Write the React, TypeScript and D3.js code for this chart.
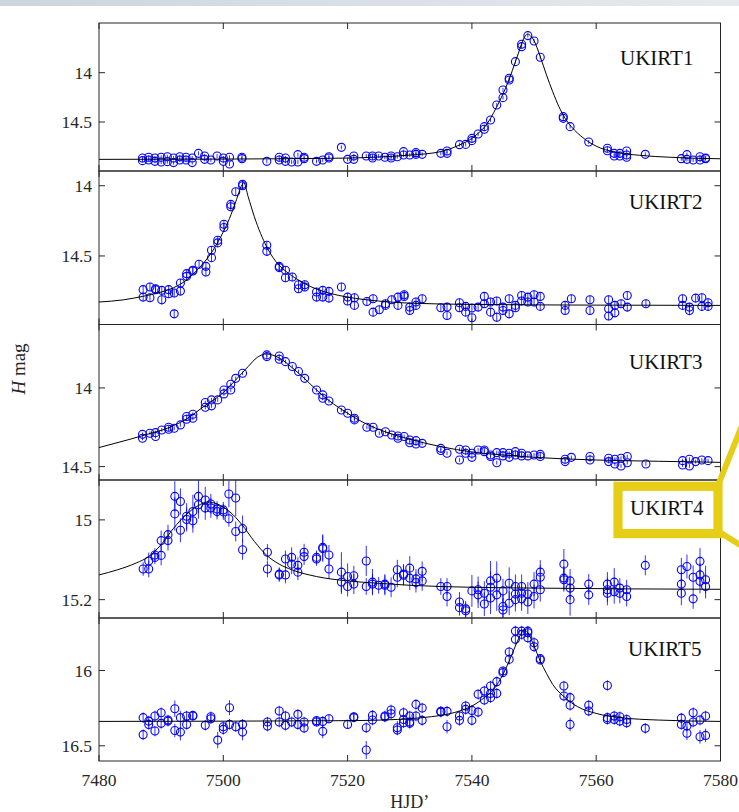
import React from "react";
import * as d3 from "d3";

// Each observation: [HJD', H magnitude, 1-sigma error]
type Obs = [number, number, number];
type Pt = [number, number];

const hjdDomain: [number, number] = [7480, 7580];
const hjdTicks = [7480, 7500, 7520, 7540, 7560, 7580];

const fieldNames = ["UKIRT1", "UKIRT2", "UKIRT3", "UKIRT4", "UKIRT5"];

const ukirt1Obs: Obs[] = [
  [7487, 14.865, 0.02], [7487, 14.892, 0.02], [7488, 14.858, 0.02], [7488, 14.885, 0.02],
  [7489, 14.865, 0.02], [7489, 14.899, 0.02], [7490, 14.858, 0.02], [7490, 14.906, 0.02],
  [7491, 14.852, 0.02], [7491, 14.902, 0.02], [7492, 14.865, 0.02], [7492, 14.912, 0.02],
  [7493, 14.852, 0.02], [7493, 14.885, 0.02], [7494, 14.858, 0.02], [7494, 14.885, 0.02],
  [7495, 14.865, 0.02], [7495, 14.912, 0.02], [7496, 14.818, 0.02],
  [7497, 14.845, 0.02], [7497, 14.879, 0.02], [7498, 14.885, 0.02], [7499, 14.845, 0.02],
  [7500, 14.865, 0.02], [7500, 14.899, 0.02], [7501, 14.858, 0.02], [7501, 14.926, 0.02],
  [7503, 14.858, 0.02], [7503, 14.872, 0.02], [7507, 14.899, 0.02],
  [7509, 14.858, 0.02], [7509, 14.885, 0.02], [7510, 14.865, 0.02], [7510, 14.899, 0.02],
  [7511, 14.906, 0.02], [7512, 14.831, 0.02], [7512, 14.906, 0.02],
  [7513, 14.858, 0.02], [7513, 14.872, 0.02], [7515, 14.899, 0.02], [7516, 14.885, 0.02],
  [7517, 14.852, 0.02], [7517, 14.865, 0.02], [7519, 14.757, 0.02], [7520, 14.879, 0.02],
  [7521, 14.845, 0.02], [7521, 14.879, 0.02], [7523, 14.845, 0.02],
  [7524, 14.845, 0.02], [7524, 14.865, 0.02], [7525, 14.845, 0.02], [7526, 14.858, 0.02],
  [7527, 14.845, 0.02], [7527, 14.865, 0.02], [7528, 14.852, 0.02],
  [7529, 14.801, 0.02], [7529, 14.835, 0.02], [7530, 14.835, 0.02],
  [7531, 14.811, 0.02], [7531, 14.828, 0.02], [7532, 14.828, 0.02], [7535, 14.818, 0.02],
  [7536, 14.794, 0.02], [7536, 14.818, 0.02], [7538, 14.73, 0.02], [7539, 14.727, 0.02],
  [7540, 14.666, 0.02], [7540, 14.689, 0.02], [7541, 14.622, 0.02],
  [7542, 14.547, 0.02], [7542, 14.574, 0.02], [7543, 14.48, 0.02], [7544, 14.328, 0.02],
  [7545, 14.253, 0.02], [7545, 14.175, 0.02], [7546, 14.074, 0.02], [7546, 14.057, 0.02],
  [7547, 13.888, 0.02], [7548, 13.736, 0.02], [7548, 13.712, 0.02], [7549, 13.624, 0.02],
  [7550, 13.678, 0.02], [7551, 13.844, 0.02],
  [7554.7, 14.446, 0.02], [7554.7, 14.463, 0.02], [7555.8, 14.547, 0.02], [7558.8, 14.703, 0.02],
  [7561.8, 14.767, 0.02], [7561.8, 14.791, 0.02], [7562.9, 14.818, 0.02], [7562.9, 14.845, 0.02],
  [7563.8, 14.818, 0.02], [7563.8, 14.845, 0.02],
  [7564.9, 14.794, 0.02], [7564.9, 14.835, 0.02], [7564.9, 14.858, 0.02], [7567.9, 14.828, 0.02],
  [7573.7, 14.872, 0.02], [7574.6, 14.831, 0.02], [7574.6, 14.879, 0.02], [7575.6, 14.885, 0.02],
  [7576.7, 14.852, 0.02], [7576.7, 14.885, 0.02], [7577.6, 14.865, 0.02], [7577.6, 14.872, 0.02],
];

const ukirt2Obs: Obs[] = [
  [7487.1, 14.74, 0.03], [7487.1, 14.793, 0.03], [7488.2, 14.721, 0.03], [7488.2, 14.797, 0.03],
  [7489.1, 14.733, 0.03], [7489.1, 14.74, 0.03], [7490.1, 14.745, 0.03], [7490.1, 14.812, 0.035],
  [7491.2, 14.74, 0.03], [7491.2, 14.769, 0.03], [7492.1, 14.912, 0.03], [7492.1, 14.764, 0.03],
  [7493.1, 14.693, 0.03], [7493.1, 14.75, 0.03], [7494.1, 14.626, 0.03], [7494.1, 14.645, 0.03],
  [7495.1, 14.607, 0.03], [7495.1, 14.602, 0.03], [7496.1, 14.559, 0.03],
  [7497.2, 14.574, 0.03], [7497.2, 14.614, 0.03], [7498.1, 14.459, 0.03], [7498.1, 14.512, 0.03],
  [7499.1, 14.388, 0.03], [7499.1, 14.407, 0.03], [7500.1, 14.274, 0.03], [7500.1, 14.297, 0.03],
  [7501.2, 14.133, 0.03], [7501.2, 14.15, 0.03], [7502, 14.043, 0.03],
  [7503.1, 13.99, 0.03], [7503.1, 14.0, 0.03],
  [7507, 14.424, 0.03], [7507, 14.467, 0.03], [7509, 14.574, 0.03], [7509, 14.583, 0.03],
  [7510, 14.602, 0.03], [7510, 14.655, 0.03], [7511.1, 14.65, 0.03],
  [7512.1, 14.705, 0.03], [7512.1, 14.733, 0.03], [7513.1, 14.705, 0.03], [7513.1, 14.721, 0.03],
  [7515, 14.757, 0.03], [7515, 14.793, 0.03], [7516, 14.745, 0.03], [7516, 14.793, 0.03],
  [7517, 14.752, 0.03], [7517, 14.8, 0.03], [7519, 14.721, 0.03],
  [7520, 14.793, 0.03], [7520, 14.821, 0.03], [7521.1, 14.797, 0.03], [7521.1, 14.852, 0.03],
  [7523.1, 14.824, 0.03], [7524.1, 14.805, 0.03], [7524.1, 14.9, 0.03], [7525.1, 14.883, 0.03],
  [7526.1, 14.84, 0.03], [7526.1, 14.852, 0.03], [7527.1, 14.812, 0.03],
  [7528.1, 14.793, 0.03], [7528.1, 14.852, 0.03], [7529.1, 14.776, 0.03], [7529.1, 14.788, 0.03],
  [7530, 14.864, 0.03], [7530, 14.888, 0.03], [7531, 14.828, 0.03], [7531, 14.852, 0.03],
  [7532, 14.805, 0.03], [7535, 14.869, 0.03], [7536, 14.864, 0.03], [7536, 14.924, 0.03],
  [7538, 14.833, 0.03], [7538, 14.869, 0.03], [7539, 14.859, 0.03], [7539, 14.9, 0.03],
  [7540, 14.871, 0.03], [7540, 14.94, 0.03], [7541, 14.864, 0.03],
  [7542, 14.788, 0.03], [7542, 14.84, 0.03], [7543, 14.828, 0.03], [7543, 14.9, 0.03],
  [7544, 14.821, 0.03], [7544, 14.936, 0.035], [7545, 14.864, 0.03], [7545, 14.888, 0.03],
  [7546, 14.805, 0.03], [7546, 14.912, 0.03], [7547, 14.852, 0.03], [7547, 14.869, 0.03],
  [7548, 14.781, 0.03], [7548, 14.821, 0.03], [7549, 14.793, 0.03], [7549, 14.828, 0.03],
  [7550, 14.776, 0.03], [7550, 14.828, 0.03], [7551, 14.788, 0.03], [7551, 14.859, 0.03],
  [7555, 14.852, 0.03], [7555, 14.888, 0.03], [7556, 14.805, 0.03],
  [7559, 14.812, 0.03], [7559, 14.888, 0.03],
  [7562, 14.812, 0.03], [7562, 14.876, 0.03], [7562, 14.928, 0.03],
  [7563, 14.852, 0.03], [7563, 14.905, 0.03], [7564, 14.84, 0.03],
  [7565, 14.781, 0.03], [7565, 14.864, 0.03], [7568, 14.84, 0.03],
  [7573.9, 14.805, 0.03], [7573.9, 14.852, 0.03], [7575, 14.864, 0.03], [7575, 14.888, 0.035],
  [7576, 14.8, 0.03], [7577, 14.797, 0.03], [7577, 14.859, 0.03],
  [7578, 14.833, 0.03], [7578, 14.859, 0.03],
];

const ukirt3Obs: Obs[] = [
  [7487, 14.295, 0.012], [7487, 14.32, 0.012], [7488.2, 14.288, 0.012],
  [7489.1, 14.284, 0.012], [7489.1, 14.309, 0.012], [7490.1, 14.267, 0.012],
  [7491.2, 14.25, 0.012], [7491.2, 14.263, 0.012], [7492.1, 14.256, 0.012], [7493.1, 14.235, 0.012],
  [7494.1, 14.182, 0.012], [7494.1, 14.199, 0.012], [7495.1, 14.167, 0.012], [7495.1, 14.193, 0.012],
  [7497.1, 14.093, 0.012], [7497.1, 14.123, 0.012], [7498.1, 14.076, 0.012], [7498.1, 14.114, 0.012],
  [7499.1, 14.076, 0.012], [7500.1, 14.013, 0.012], [7500.1, 14.038, 0.012],
  [7501.2, 13.977, 0.012], [7501.2, 14.013, 0.012], [7502, 13.939, 0.012], [7503.1, 13.907, 0.012],
  [7507, 13.79, 0.012], [7507, 13.801, 0.012], [7509, 13.797, 0.012], [7509, 13.818, 0.012],
  [7510, 13.833, 0.012], [7511.1, 13.864, 0.012], [7512.1, 13.896, 0.012], [7513.1, 13.939, 0.012],
  [7515, 14.013, 0.012], [7516, 14.044, 0.012], [7516, 14.066, 0.012], [7517, 14.083, 0.012],
  [7519, 14.14, 0.012], [7520, 14.161, 0.012], [7521.1, 14.193, 0.012], [7521.1, 14.203, 0.012],
  [7523.1, 14.25, 0.012], [7524.1, 14.25, 0.012], [7525.1, 14.288, 0.012], [7526.1, 14.278, 0.012],
  [7527.1, 14.299, 0.012], [7528.1, 14.305, 0.012], [7528.1, 14.32, 0.012], [7529.1, 14.309, 0.012],
  [7530, 14.331, 0.012], [7530, 14.348, 0.012], [7531, 14.335, 0.012], [7531, 14.356, 0.012],
  [7532, 14.352, 0.012], [7535, 14.384, 0.012], [7535, 14.398, 0.012], [7536, 14.415, 0.012],
  [7538, 14.39, 0.012], [7538, 14.458, 0.012], [7539, 14.394, 0.012], [7539, 14.415, 0.012],
  [7540, 14.415, 0.012], [7540, 14.441, 0.012], [7541, 14.394, 0.012],
  [7542, 14.394, 0.012], [7542, 14.405, 0.012], [7543, 14.426, 0.012], [7543, 14.436, 0.012],
  [7544, 14.411, 0.012], [7544, 14.475, 0.012], [7545, 14.411, 0.012], [7545, 14.432, 0.012],
  [7546, 14.415, 0.012], [7546, 14.441, 0.012], [7547, 14.405, 0.012], [7547, 14.426, 0.012],
  [7548, 14.415, 0.012], [7548, 14.432, 0.012], [7549, 14.432, 0.012], [7550, 14.426, 0.012],
  [7551, 14.422, 0.012], [7551, 14.436, 0.012], [7555, 14.453, 0.012], [7555, 14.468, 0.012],
  [7556, 14.441, 0.012], [7559, 14.436, 0.012], [7559, 14.458, 0.012],
  [7562, 14.447, 0.012], [7562, 14.468, 0.012], [7563, 14.453, 0.012], [7563, 14.483, 0.012],
  [7564, 14.496, 0.012], [7564, 14.447, 0.012], [7565, 14.436, 0.012], [7565, 14.475, 0.012],
  [7568, 14.483, 0.012], [7573.9, 14.462, 0.012], [7573.9, 14.49, 0.012],
  [7575, 14.453, 0.012], [7575, 14.496, 0.012], [7576, 14.468, 0.012], [7577, 14.458, 0.012],
  [7578, 14.462, 0.012],
];

const ukirt4Obs: Obs[] = [
  [7487.1, 15.123, 0.017], [7488, 15.123, 0.021], [7488, 15.103, 0.021],
  [7489, 15.088, 0.017], [7489, 15.094, 0.017], [7490, 15.089, 0.025], [7490, 15.052, 0.025],
  [7491.1, 15.052, 0.025], [7491.1, 15.037, 0.025], [7492.2, 14.941, 0.038], [7492.2, 14.985, 0.042],
  [7493.1, 14.954, 0.033], [7493.1, 15.026, 0.03], [7494.1, 14.991, 0.033], [7494.1, 14.999, 0.03],
  [7495.1, 14.979, 0.042], [7495.1, 15.002, 0.03], [7496, 14.941, 0.042], [7496, 14.962, 0.035],
  [7497.1, 14.95, 0.033], [7497.1, 14.97, 0.03], [7498, 14.96, 0.025], [7498, 14.97, 0.025],
  [7499, 14.973, 0.02], [7499, 14.979, 0.02], [7500, 14.975, 0.02], [7500, 14.98, 0.02],
  [7500.9, 14.935, 0.033], [7500.9, 14.997, 0.02], [7502, 14.945, 0.046], [7502, 15.029, 0.025],
  [7503.1, 15.022, 0.033], [7503.1, 15.075, 0.025],
  [7507.1, 15.081, 0.02], [7507.1, 15.123, 0.021], [7509, 15.136, 0.017], [7509, 15.138, 0.017],
  [7510, 15.098, 0.021], [7510, 15.138, 0.021], [7511, 15.094, 0.025], [7511, 15.111, 0.025],
  [7512, 15.114, 0.02], [7512, 15.131, 0.02], [7513, 15.081, 0.021], [7513, 15.092, 0.021],
  [7515, 15.094, 0.017], [7515, 15.098, 0.017], [7516, 15.069, 0.033], [7516, 15.072, 0.033],
  [7517, 15.088, 0.025], [7517, 15.123, 0.025], [7519, 15.131, 0.05], [7519, 15.156, 0.03],
  [7520, 15.142, 0.033], [7520, 15.167, 0.025], [7521, 15.14, 0.025], [7521, 15.161, 0.025],
  [7523, 15.103, 0.038], [7523, 15.167, 0.021], [7524, 15.156, 0.033], [7524, 15.161, 0.025],
  [7525, 15.164, 0.021], [7526, 15.161, 0.025], [7526, 15.164, 0.025], [7527, 15.169, 0.025],
  [7528, 15.125, 0.025], [7528, 15.144, 0.025], [7529, 15.136, 0.025], [7529, 15.139, 0.025],
  [7530, 15.121, 0.03], [7530, 15.146, 0.03], [7531, 15.148, 0.025], [7531, 15.157, 0.025],
  [7532, 15.129, 0.025], [7532, 15.153, 0.025], [7535, 15.167, 0.021],
  [7536, 15.167, 0.021], [7536, 15.192, 0.025], [7538, 15.206, 0.025], [7538, 15.22, 0.02],
  [7539, 15.228, 0.02], [7539, 15.223, 0.02], [7540, 15.178, 0.04],
  [7541, 15.175, 0.033], [7541, 15.188, 0.033], [7542, 15.184, 0.03], [7542, 15.211, 0.03],
  [7543, 15.153, 0.05], [7543, 15.169, 0.04], [7543, 15.196, 0.04],
  [7544, 15.146, 0.042], [7544, 15.188, 0.04],
  [7545, 15.178, 0.03], [7545, 15.217, 0.03], [7545, 15.226, 0.03],
  [7546, 15.159, 0.04], [7546, 15.209, 0.03],
  [7547, 15.167, 0.03], [7547, 15.186, 0.03], [7547, 15.2, 0.03],
  [7548, 15.167, 0.03], [7548, 15.184, 0.03], [7548, 15.198, 0.03],
  [7549, 15.206, 0.03], [7549, 15.186, 0.03], [7550, 15.161, 0.03], [7550, 15.192, 0.03],
  [7551, 15.131, 0.03], [7551, 15.144, 0.03], [7551, 15.175, 0.03],
  [7554.8, 15.111, 0.038], [7554.8, 15.146, 0.03], [7554.8, 15.15, 0.03],
  [7555.8, 15.153, 0.03], [7555.8, 15.171, 0.03], [7555.8, 15.2, 0.04],
  [7558.8, 15.161, 0.025], [7558.8, 15.188, 0.025],
  [7561.8, 15.161, 0.03], [7561.8, 15.175, 0.03], [7561.8, 15.184, 0.03],
  [7562.9, 15.156, 0.035], [7562.9, 15.18, 0.03], [7563.8, 15.171, 0.025], [7563.8, 15.184, 0.025],
  [7564.9, 15.175, 0.025], [7564.9, 15.192, 0.025], [7567.9, 15.114, 0.025],
  [7573.7, 15.125, 0.03], [7573.7, 15.161, 0.03], [7573.7, 15.184, 0.03], [7574.6, 15.117, 0.03],
  [7575.6, 15.144, 0.03], [7575.6, 15.198, 0.025],
  [7576.7, 15.104, 0.033], [7576.7, 15.138, 0.03], [7576.7, 15.154, 0.03],
  [7577.6, 15.15, 0.035], [7577.6, 15.167, 0.03],
];

const ukirt5Obs: Obs[] = [
  [7487.1, 16.313, 0.035], [7487.1, 16.426, 0.035], [7488, 16.336, 0.035], [7488, 16.358, 0.035],
  [7489, 16.302, 0.035], [7489, 16.402, 0.035], [7490, 16.28, 0.035], [7490, 16.351, 0.035],
  [7491.1, 16.329, 0.035], [7491.1, 16.336, 0.035], [7492.2, 16.254, 0.055], [7492.2, 16.398, 0.045],
  [7493.1, 16.313, 0.045], [7493.1, 16.409, 0.055], [7494.1, 16.302, 0.035], [7494.1, 16.358, 0.035],
  [7495.1, 16.298, 0.03], [7495.1, 16.302, 0.03], [7497.1, 16.364, 0.035],
  [7498, 16.307, 0.035], [7498, 16.32, 0.035], [7499.1, 16.462, 0.055],
  [7500, 16.391, 0.035], [7500, 16.373, 0.035], [7501, 16.247, 0.05], [7501, 16.358, 0.035],
  [7502, 16.373, 0.035], [7503.1, 16.358, 0.035], [7503.1, 16.409, 0.055],
  [7507.1, 16.342, 0.035], [7507.1, 16.369, 0.035], [7509, 16.269, 0.035], [7509, 16.342, 0.035],
  [7510, 16.302, 0.035], [7510, 16.364, 0.035], [7511, 16.342, 0.035],
  [7512, 16.291, 0.035], [7512, 16.358, 0.035], [7513, 16.342, 0.035], [7513, 16.382, 0.035],
  [7515, 16.333, 0.03], [7515, 16.342, 0.03], [7516, 16.338, 0.035], [7516, 16.404, 0.045],
  [7517, 16.32, 0.03], [7520, 16.358, 0.03], [7521, 16.313, 0.03], [7521, 16.307, 0.03],
  [7523, 16.38, 0.035], [7523, 16.528, 0.06], [7524, 16.298, 0.035], [7524, 16.329, 0.035],
  [7526, 16.302, 0.035], [7526, 16.309, 0.035], [7527, 16.262, 0.035], [7527, 16.287, 0.035],
  [7528, 16.38, 0.045], [7528, 16.395, 0.035],
  [7529, 16.28, 0.035], [7529, 16.325, 0.035], [7529, 16.347, 0.035],
  [7530, 16.302, 0.035], [7530, 16.342, 0.035], [7530, 16.351, 0.035],
  [7531, 16.225, 0.035], [7531, 16.302, 0.035], [7532, 16.249, 0.035], [7532, 16.331, 0.035],
  [7535, 16.271, 0.035], [7535, 16.276, 0.035], [7536, 16.271, 0.035], [7536, 16.373, 0.045],
  [7538, 16.302, 0.035], [7538, 16.331, 0.035], [7539, 16.236, 0.035], [7539, 16.258, 0.035],
  [7540, 16.265, 0.035], [7540, 16.331, 0.035], [7541, 16.158, 0.035], [7541, 16.276, 0.035],
  [7542, 16.136, 0.035], [7542, 16.196, 0.035],
  [7543, 16.103, 0.035], [7543, 16.152, 0.035], [7543, 16.18, 0.035],
  [7544, 16.074, 0.035], [7544, 16.152, 0.035], [7545, 16.003, 0.03], [7545, 16.014, 0.03],
  [7546, 15.877, 0.035], [7546, 15.926, 0.035], [7547, 15.738, 0.035], [7547, 15.793, 0.035],
  [7548, 15.738, 0.035], [7548, 15.76, 0.035],
  [7549, 15.738, 0.035], [7549, 15.749, 0.035], [7549, 15.782, 0.035],
  [7550, 15.815, 0.035], [7550, 15.842, 0.035], [7551, 15.921, 0.03], [7551, 15.93, 0.03],
  [7554.8, 16.103, 0.035], [7554.8, 16.169, 0.035],
  [7555.8, 16.18, 0.035], [7555.8, 16.231, 0.035], [7555.8, 16.358, 0.045],
  [7558.8, 16.231, 0.035], [7558.8, 16.269, 0.035],
  [7561.8, 16.099, 0.035], [7561.8, 16.313, 0.035], [7561.8, 16.325, 0.035],
  [7562.9, 16.302, 0.035], [7562.9, 16.325, 0.035], [7563.8, 16.307, 0.035], [7563.8, 16.336, 0.035],
  [7564.9, 16.325, 0.035], [7564.9, 16.347, 0.035], [7567.9, 16.384, 0.035],
  [7573.7, 16.316, 0.035], [7573.7, 16.358, 0.035], [7574.6, 16.369, 0.035], [7574.6, 16.417, 0.045],
  [7575.6, 16.28, 0.035], [7575.6, 16.342, 0.035], [7576.7, 16.329, 0.035], [7576.7, 16.44, 0.045],
  [7577.6, 16.302, 0.035], [7577.6, 16.431, 0.045],
];

// Best-fit model light curves, sampled in HJD'
const ukirt1Model: Pt[] = [
  [7480, 14.879], [7500, 14.876], [7520, 14.866], [7525, 14.855], [7530, 14.836], [7535, 14.8],
  [7538, 14.733], [7540, 14.666], [7541, 14.615], [7542, 14.554], [7543, 14.463], [7544, 14.345],
  [7545, 14.216], [7546, 14.067], [7547, 13.888], [7547.5, 13.8], [7548, 13.705], [7548.6, 13.625],
  [7549, 13.608], [7549.4, 13.625], [7550, 13.675], [7551, 13.837], [7552, 14.023], [7553, 14.192],
  [7554, 14.344], [7555, 14.463], [7556, 14.547], [7558, 14.666], [7560, 14.745], [7563, 14.805],
  [7567, 14.838], [7572, 14.858], [7580, 14.873],
];
const ukirt2Model: Pt[] = [
  [7480, 14.828], [7484, 14.812], [7487, 14.788], [7490, 14.757], [7492, 14.726], [7494, 14.674],
  [7496, 14.59], [7498, 14.483], [7500, 14.328], [7501, 14.233], [7502, 14.114], [7503, 13.995],
  [7503.3, 13.978], [7504, 14.078], [7505, 14.221], [7506, 14.34], [7507, 14.436], [7508, 14.512],
  [7509, 14.567], [7510, 14.607], [7512, 14.669], [7514, 14.717], [7517, 14.764], [7520, 14.793],
  [7525, 14.821], [7530, 14.836], [7540, 14.845], [7560, 14.85], [7580, 14.852],
];
const ukirt3Model: Pt[] = [
  [7480, 14.379], [7485, 14.326], [7488, 14.292], [7491, 14.256], [7494, 14.199], [7497, 14.114],
  [7500, 14.03], [7502, 13.949], [7504, 13.864], [7505.5, 13.805], [7507, 13.784], [7508, 13.792],
  [7509.5, 13.822], [7511, 13.869], [7513, 13.938], [7515, 14.013], [7517, 14.08], [7520, 14.161],
  [7523, 14.229], [7526, 14.278], [7530, 14.326], [7535, 14.373], [7540, 14.407], [7545, 14.426],
  [7550, 14.441], [7560, 14.458], [7570, 14.466], [7580, 14.473],
];
const ukirt4Model: Pt[] = [
  [7480, 15.138], [7483, 15.125], [7486, 15.108], [7488, 15.092], [7490, 15.062], [7492, 15.021],
  [7494, 14.987], [7496, 14.964], [7497.5, 14.955], [7499, 14.96], [7501, 14.979], [7503, 15.012],
  [7505, 15.054], [7507, 15.089], [7509, 15.111], [7511, 15.125], [7515, 15.142], [7520, 15.153],
  [7525, 15.159], [7530, 15.164], [7540, 15.169], [7550, 15.171], [7565, 15.173], [7580, 15.174],
];
const ukirt5Model: Pt[] = [
  [7480, 16.338], [7520, 16.333], [7528, 16.325], [7532, 16.313], [7535, 16.298], [7538, 16.269],
  [7540, 16.236], [7542, 16.18], [7543.5, 16.125], [7545, 16.025], [7546, 15.937], [7547, 15.837],
  [7548, 15.749], [7548.4, 15.727], [7549, 15.749], [7550, 15.837], [7551, 15.937], [7552, 16.019],
  [7553, 16.092], [7555, 16.18], [7557, 16.24], [7560, 16.285], [7564, 16.313], [7570, 16.329],
  [7580, 16.338],
];

// Visible magnitude range of each panel (bright at top) and its labelled ticks
const magRanges: [number, number][] = [
  [13.496, 14.997], [13.895, 14.988], [13.597, 14.585], [14.9, 15.246], [15.651, 16.601],
];
const magTicks: number[][] = [[14, 14.5], [14, 14.5], [14, 14.5], [15, 15.2], [16, 16.5]];

const observations = [ukirt1Obs, ukirt2Obs, ukirt3Obs, ukirt4Obs, ukirt5Obs];
const models = [ukirt1Model, ukirt2Model, ukirt3Model, ukirt4Model, ukirt5Model];

// Layout
const W = 739;
const H = 812;
const PLOT_LEFT = 99;
const PLOT_RIGHT = 720.5;
const PANEL_EDGES = [23, 171, 324.5, 480, 618, 761];
const NAME_POS: [number, number][] = [[620, 65], [629, 209], [629, 369], [630, 514.5], [628, 656]];
const TICK_LEN = 6;
const AXIS_COLOR = "#262626";
const MARK_COLOR = "#0000ff";
const HIGHLIGHT = "#e6cd16";
const SERIF = "'Liberation Serif', 'Times New Roman', serif";

export default function App() {
  const x = d3.scaleLinear().domain(hjdDomain).range([PLOT_LEFT, PLOT_RIGHT]);

  const panels = fieldNames.map((name, i) => {
    const top = PANEL_EDGES[i];
    const bottom = PANEL_EDGES[i + 1];
    const y = d3.scaleLinear().domain(magRanges[i]).range([top, bottom]);
    const line = d3
      .line<Pt>()
      .x((d) => x(d[0]))
      .y((d) => y(d[1]))
      .curve(d3.curveMonotoneX);
    return { name, i, top, bottom, y, path: line(models[i]) || "", obs: observations[i], ticks: magTicks[i] };
  });

  return (
    <svg
      width={W}
      height={H}
      viewBox={`0 0 ${W} ${H}`}
      style={{ position: "absolute", left: 0, top: 0, display: "block", background: "#fff" }}
      fontFamily={SERIF}
    >
      <defs>
        <linearGradient id="topBand" x1="0" x2="1" y1="0" y2="0">
          <stop offset="0" stopColor="#ccd5dc" />
          <stop offset="1" stopColor="#e6eaee" />
        </linearGradient>
        {panels.map((p) => (
          <clipPath id={`panelClip${p.i}`} key={p.name}>
            <rect x={PLOT_LEFT} y={p.top} width={PLOT_RIGHT - PLOT_LEFT} height={p.bottom - p.top} />
          </clipPath>
        ))}
      </defs>

      <rect x={0} y={0} width={W} height={H} fill="#fff" />
      <rect x={0} y={0} width={W} height={6} fill="url(#topBand)" />

      {panels.map((p) => (
        <g key={p.name}>
          <g clipPath={`url(#panelClip${p.i})`}>
            {p.obs.map((d, k) => (
              <line
                key={`e${k}`}
                x1={x(d[0])}
                x2={x(d[0])}
                y1={p.y(d[1] - d[2])}
                y2={p.y(d[1] + d[2])}
                stroke={MARK_COLOR}
                strokeOpacity={0.8}
                strokeWidth={1}
              />
            ))}
            {p.obs.map((d, k) => (
              <circle
                key={`c${k}`}
                cx={x(d[0])}
                cy={p.y(d[1])}
                r={4}
                fill="none"
                stroke={MARK_COLOR}
                strokeWidth={1.1}
              />
            ))}
            <path d={p.path} fill="none" stroke="#000" strokeWidth={1} />
          </g>

          <rect
            x={PLOT_LEFT}
            y={p.top}
            width={PLOT_RIGHT - PLOT_LEFT}
            height={p.bottom - p.top}
            fill="none"
            stroke={AXIS_COLOR}
            strokeWidth={1}
          />

          {hjdTicks.map((t) => (
            <g key={`xt${t}`} stroke={AXIS_COLOR} strokeWidth={1}>
              <line x1={x(t)} x2={x(t)} y1={p.top} y2={p.top + TICK_LEN} />
              <line x1={x(t)} x2={x(t)} y1={p.bottom} y2={p.bottom - TICK_LEN} />
            </g>
          ))}

          {p.ticks.map((m) => (
            <g key={`yt${m}`}>
              <line x1={PLOT_LEFT} x2={PLOT_LEFT + TICK_LEN} y1={p.y(m)} y2={p.y(m)} stroke={AXIS_COLOR} />
              <line x1={PLOT_RIGHT} x2={PLOT_RIGHT - TICK_LEN} y1={p.y(m)} y2={p.y(m)} stroke={AXIS_COLOR} />
              <text
                x={PLOT_LEFT - 7}
                y={p.y(m)}
                textAnchor="end"
                dominantBaseline="central"
                fontSize={17.5}
                fill={AXIS_COLOR}
              >
                {String(m)}
              </text>
            </g>
          ))}

          <text x={NAME_POS[p.i][0]} y={NAME_POS[p.i][1]} fontSize={21} fill="#111">
            {p.name}
          </text>
        </g>
      ))}

      {hjdTicks.map((t) => (
        <text key={`xl${t}`} x={x(t)} y={786} textAnchor="middle" fontSize={17.5} fill={AXIS_COLOR}>
          {String(t)}
        </text>
      ))}
      <text x={(PLOT_LEFT + PLOT_RIGHT) / 2} y={808} textAnchor="middle" fontSize={18} fill={AXIS_COLOR}>
        HJD’
      </text>
      <text
        transform={`translate(25, 369) rotate(-90)`}
        textAnchor="middle"
        fontSize={19}
        fill={AXIS_COLOR}
      >
        <tspan fontStyle="italic">H</tspan>
        <tspan> mag</tspan>
      </text>

      {/* Callout frame around the UKIRT4 field label */}
      <g stroke={HIGHLIGHT} fill="none">
        <rect x={618} y={486.3} width={100} height={47.3} strokeWidth={9.2} />
        <line x1={719} y1={483} x2={745} y2={418} strokeWidth={6} />
        <line x1={721} y1={533} x2={745} y2={548} strokeWidth={6} />
      </g>
    </svg>
  );
}
